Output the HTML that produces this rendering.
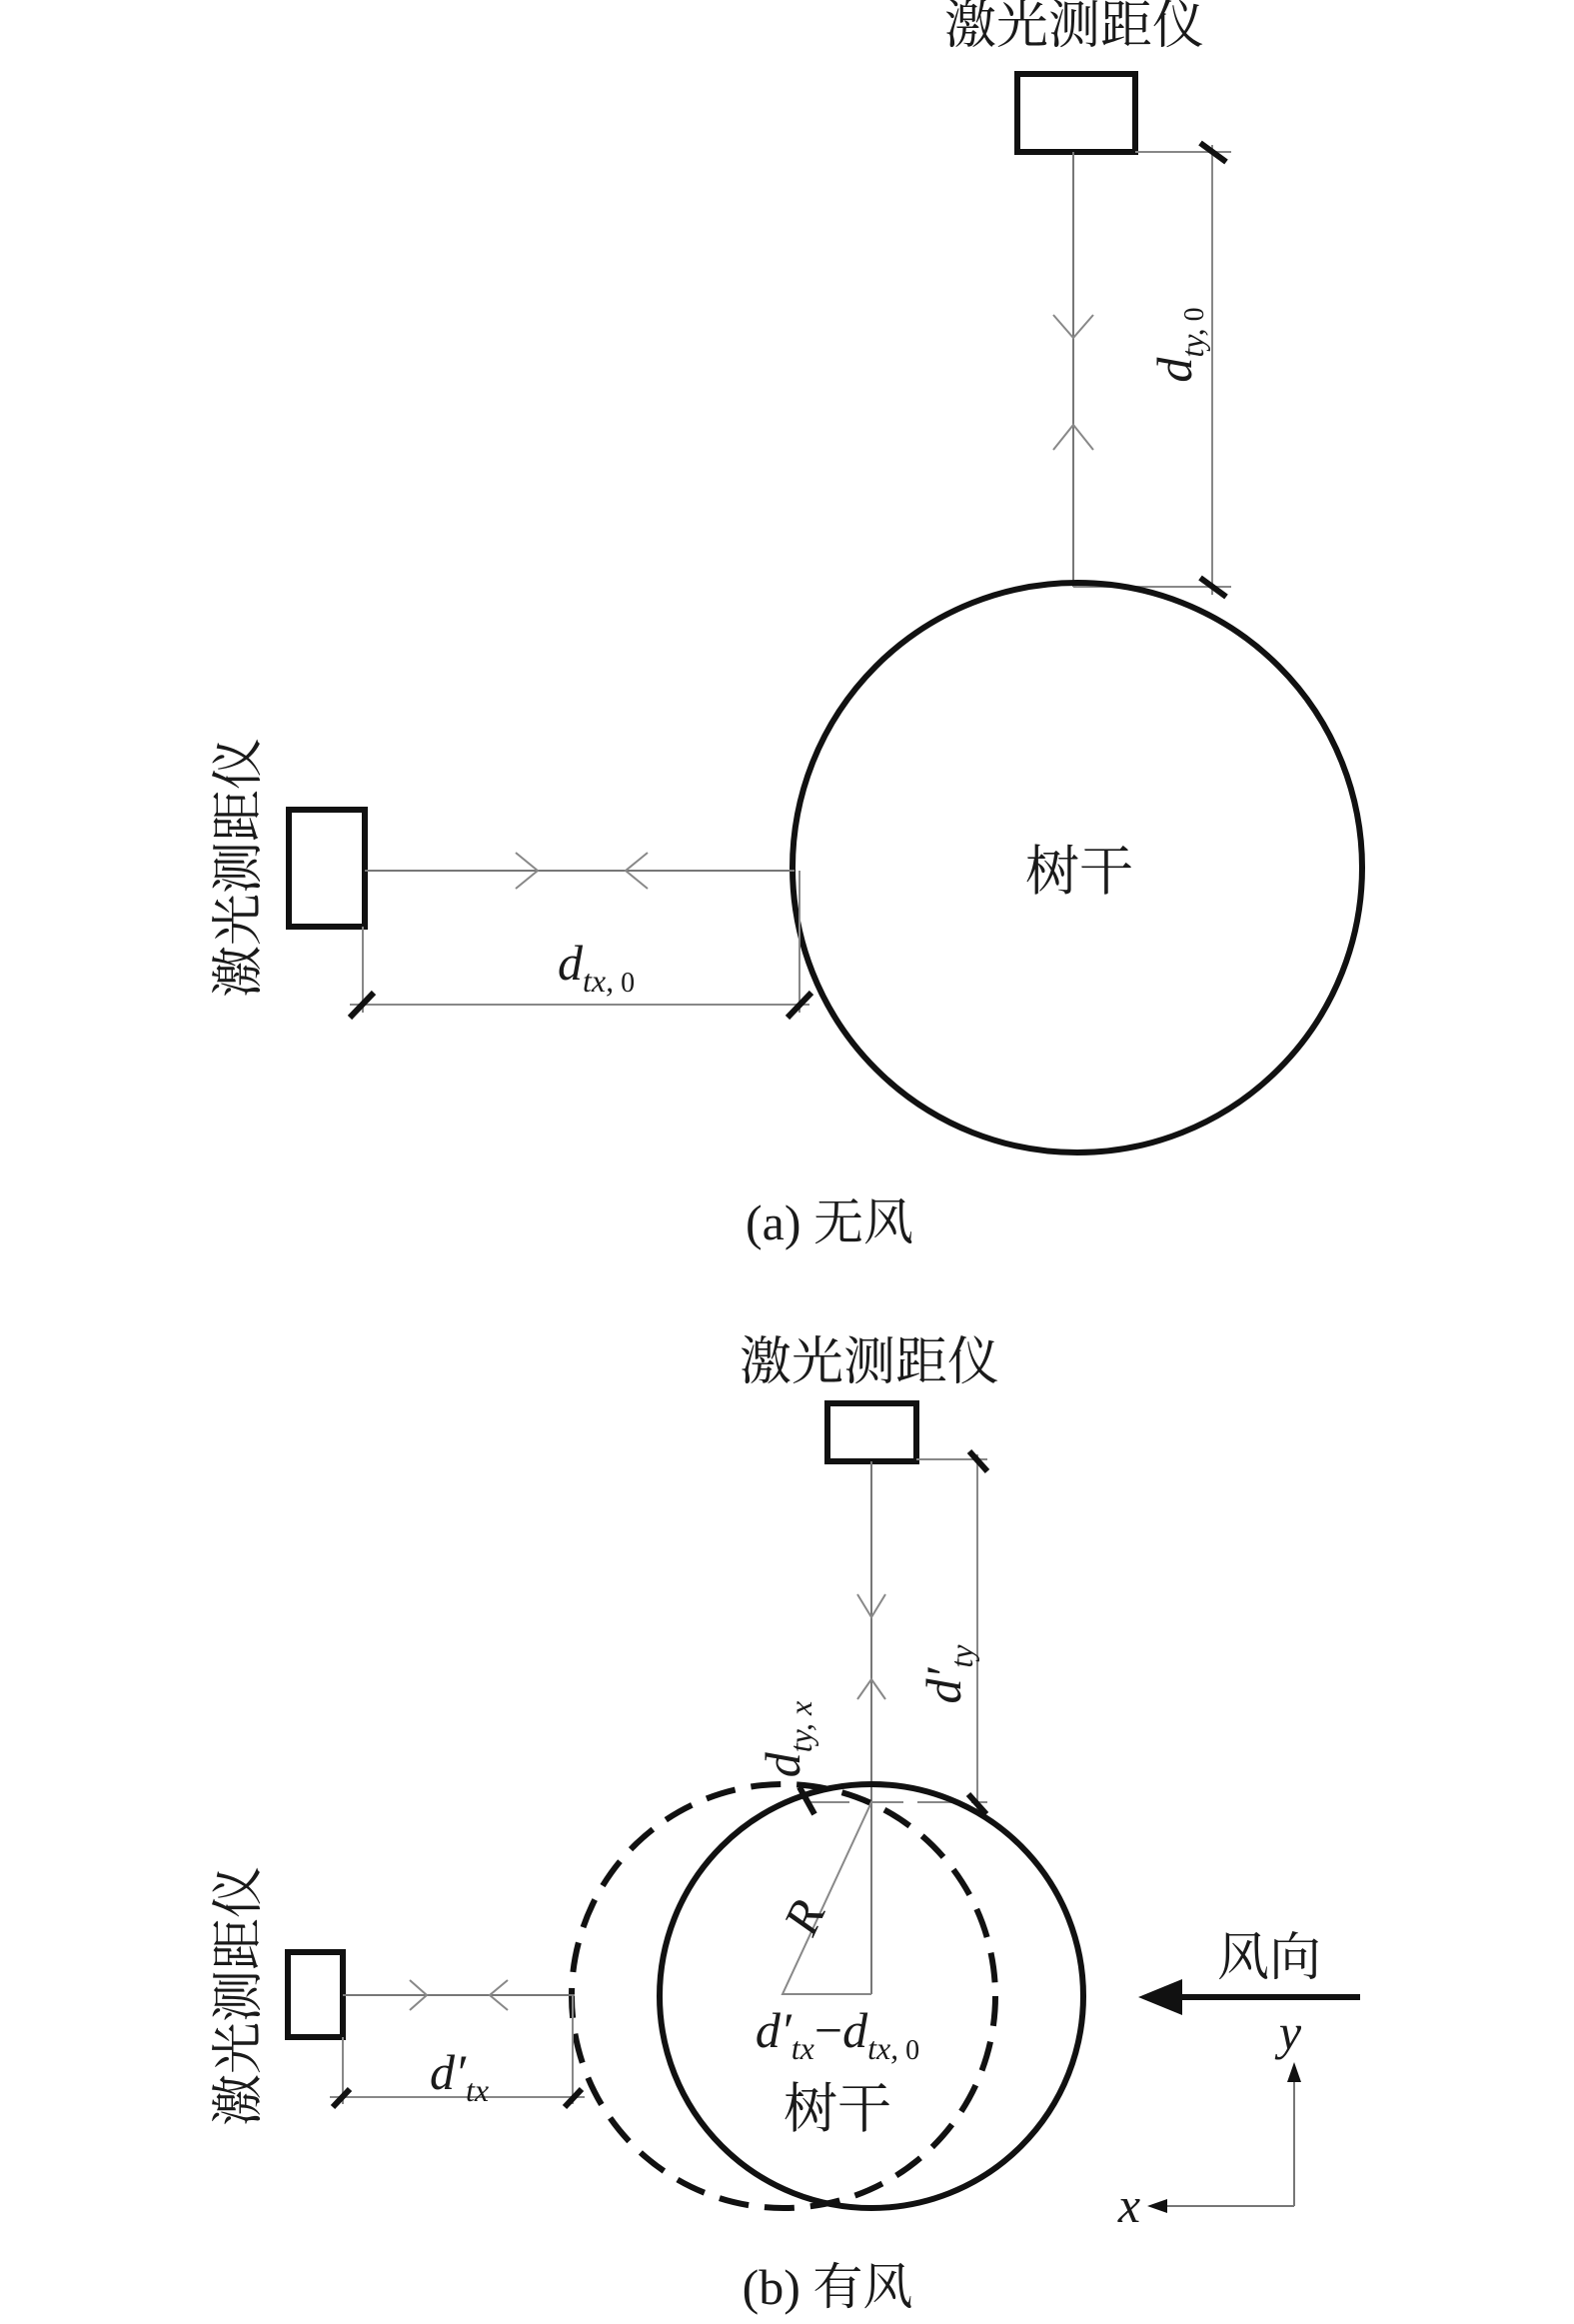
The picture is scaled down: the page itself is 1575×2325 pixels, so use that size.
<!DOCTYPE html>
<html><head><meta charset="utf-8"><style>
html,body{margin:0;padding:0;background:#fff;}
svg{display:block;}
text{font-family:"Liberation Serif","Noto Serif CJK SC",serif;fill:#1a1a1a;}
.cn{font-family:"Liberation Serif","Noto Serif CJK SC",serif;}
</style></head><body>
<svg width="1575" height="2325" viewBox="0 0 1575 2325" xmlns="http://www.w3.org/2000/svg">
<!-- ===== (a) ===== -->
<text class="cn" x="1075" y="43" font-size="52" text-anchor="middle">激光测距仪</text>
<rect x="1018" y="74" width="118" height="78" fill="none" stroke="#111" stroke-width="6"/>
<line x1="1074" y1="152" x2="1074" y2="587" stroke="#777" stroke-width="2"/>
<polyline points="1054,315 1074,338 1094,315" fill="none" stroke="#888" stroke-width="2"/>
<polyline points="1054,450 1074,425 1094,450" fill="none" stroke="#888" stroke-width="2"/>
<line x1="1136" y1="152" x2="1232" y2="152" stroke="#888" stroke-width="2"/>
<line x1="1074" y1="587" x2="1232" y2="587" stroke="#888" stroke-width="2"/>
<line x1="1213" y1="145" x2="1213" y2="595" stroke="#888" stroke-width="2"/>
<line x1="1201" y1="143" x2="1227" y2="162" stroke="#111" stroke-width="6"/>
<line x1="1201" y1="578" x2="1227" y2="597" stroke="#111" stroke-width="6"/>
<text transform="translate(1192,345) rotate(-90)" text-anchor="middle" font-size="50" font-style="italic">d<tspan font-size="32" dy="12">ty,</tspan><tspan font-size="28" font-style="normal"> 0</tspan></text>
<circle cx="1078" cy="868" r="285" fill="none" stroke="#111" stroke-width="6"/>
<text class="cn" x="1080" y="890" font-size="54" text-anchor="middle">树干</text>
<text class="cn" transform="translate(256,868) rotate(-90)" font-size="52" text-anchor="middle">激光测距仪</text>
<rect x="289" y="810" width="76" height="117" fill="none" stroke="#111" stroke-width="6"/>
<line x1="365" y1="871" x2="795" y2="871" stroke="#777" stroke-width="2"/>
<polyline points="516,853 538,871 516,889" fill="none" stroke="#888" stroke-width="2"/>
<polyline points="648,853 626,871 648,889" fill="none" stroke="#888" stroke-width="2"/>
<line x1="363" y1="927" x2="363" y2="1013" stroke="#888" stroke-width="2"/>
<line x1="800" y1="871" x2="800" y2="1013" stroke="#888" stroke-width="2"/>
<line x1="350" y1="1005" x2="810" y2="1005" stroke="#888" stroke-width="2"/>
<line x1="350" y1="1018" x2="374" y2="993" stroke="#111" stroke-width="6"/>
<line x1="788" y1="1018" x2="812" y2="993" stroke="#111" stroke-width="6"/>
<text x="558" y="980" font-size="50" font-style="italic">d<tspan font-size="32" dy="12">tx,</tspan><tspan font-size="28" font-style="normal"> 0</tspan></text>
<text class="cn" x="830" y="1240" font-size="50" text-anchor="middle">(a) 无风</text>

<!-- ===== (b) ===== -->
<text class="cn" x="870" y="1380" font-size="52" text-anchor="middle">激光测距仪</text>
<rect x="828" y="1404" width="89" height="58" fill="none" stroke="#111" stroke-width="6"/>
<line x1="872" y1="1462" x2="872" y2="1995" stroke="#777" stroke-width="2"/>
<polyline points="858,1595 872,1618 886,1595" fill="none" stroke="#888" stroke-width="2"/>
<polyline points="858,1700 872,1680 886,1700" fill="none" stroke="#888" stroke-width="2"/>
<line x1="917" y1="1460" x2="988" y2="1460" stroke="#888" stroke-width="2"/>
<line x1="978" y1="1455" x2="978" y2="1810" stroke="#888" stroke-width="2"/>
<line x1="810" y1="1803" x2="988" y2="1803" stroke="#888" stroke-width="2" stroke-dasharray="40,14"/>
<line x1="970" y1="1452" x2="988" y2="1472" stroke="#111" stroke-width="6"/>
<line x1="969" y1="1795" x2="987" y2="1815" stroke="#111" stroke-width="6"/>
<line x1="800" y1="1788" x2="815" y2="1815" stroke="#111" stroke-width="6"/>
<text transform="translate(961,1675) rotate(-90)" text-anchor="middle" font-size="50" font-style="italic">d′<tspan font-size="32" dy="12">ty</tspan></text>
<text transform="translate(800,1740) rotate(-90)" text-anchor="middle" font-size="50" font-style="italic">d<tspan font-size="32" dy="12">ty, x</tspan></text>
<circle cx="872" cy="1997" r="212" fill="none" stroke="#111" stroke-width="6"/>
<circle cx="784" cy="1997" r="212" fill="none" stroke="#111" stroke-width="6" stroke-dasharray="30,16"/>
<polyline points="872,1803 783,1995 872,1995" fill="none" stroke="#888" stroke-width="2"/>
<text transform="translate(820,1925) rotate(-65)" text-anchor="middle" font-size="50" font-style="italic">R</text>
<text x="838" y="2048" text-anchor="middle" font-size="50" font-style="italic">d′<tspan font-size="32" dy="12">tx</tspan><tspan dy="-12" font-style="normal">−</tspan>d<tspan font-size="32" dy="12">tx,</tspan><tspan font-size="28" font-style="normal"> 0</tspan></text>
<text class="cn" x="838" y="2128" font-size="54" text-anchor="middle">树干</text>
<text class="cn" transform="translate(256,1997) rotate(-90)" font-size="52" text-anchor="middle">激光测距仪</text>
<rect x="288" y="1953" width="55" height="85" fill="none" stroke="#111" stroke-width="6"/>
<line x1="343" y1="1996" x2="575" y2="1996" stroke="#777" stroke-width="2"/>
<polyline points="410,1981 427,1996 410,2011" fill="none" stroke="#888" stroke-width="2"/>
<polyline points="508,1981 490,1996 508,2011" fill="none" stroke="#888" stroke-width="2"/>
<line x1="343" y1="2038" x2="343" y2="2105" stroke="#888" stroke-width="2"/>
<line x1="573" y1="1996" x2="573" y2="2105" stroke="#888" stroke-width="2"/>
<line x1="330" y1="2098" x2="585" y2="2098" stroke="#888" stroke-width="2"/>
<line x1="333" y1="2108" x2="350" y2="2090" stroke="#111" stroke-width="6"/>
<line x1="565" y1="2108" x2="582" y2="2090" stroke="#111" stroke-width="6"/>
<text x="430" y="2090" font-size="50" font-style="italic">d′<tspan font-size="32" dy="12">tx</tspan></text>
<!-- wind -->
<text class="cn" x="1270" y="1976" font-size="52" text-anchor="middle">风向</text>
<line x1="1361" y1="1998" x2="1176" y2="1998" stroke="#111" stroke-width="6"/>
<polygon points="1139,1998 1183,1980 1183,2016" fill="#111"/>
<text x="1291" y="2050" font-size="50" font-style="italic" text-anchor="middle">y</text>
<line x1="1295" y1="2207" x2="1295" y2="2080" stroke="#777" stroke-width="2"/>
<polygon points="1295,2063 1288,2083 1302,2083" fill="#111"/>
<line x1="1295" y1="2207" x2="1165" y2="2207" stroke="#777" stroke-width="2"/>
<polygon points="1148,2207 1168,2200 1168,2214" fill="#111"/>
<text x="1130" y="2223" font-size="50" font-style="italic" text-anchor="middle">x</text>
<text class="cn" x="828" y="2305" font-size="50" text-anchor="middle">(b) 有风</text>
</svg>
</body></html>
